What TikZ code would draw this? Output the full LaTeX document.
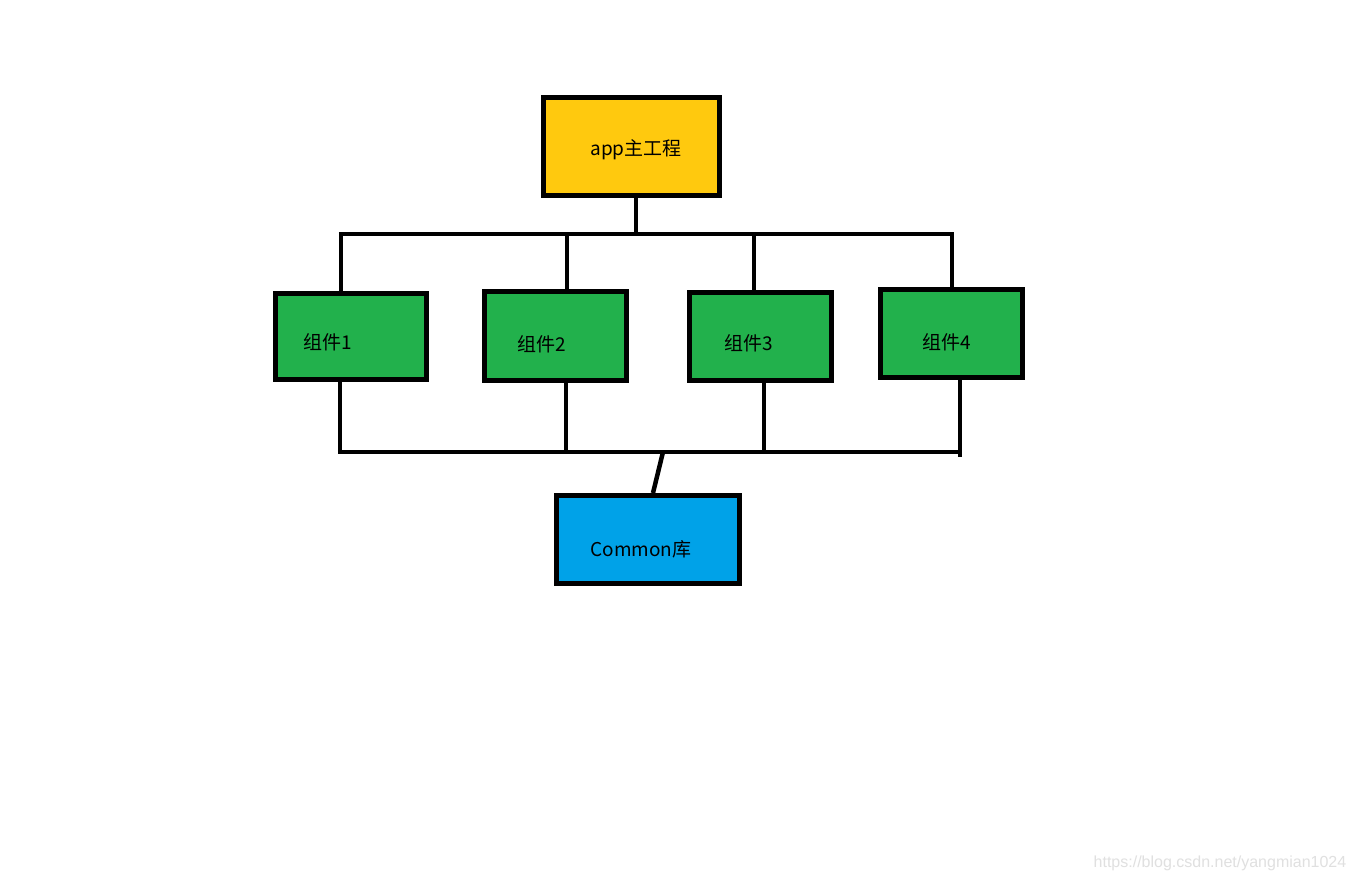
\documentclass[tikz,border=0pt]{standalone}
\usepackage{fontspec}
\setmainfont{Noto Sans CJK SC}
\newfontfamily\wmfont{Liberation Sans}
\definecolor{paintyellow}{HTML}{FFC90E}
\definecolor{paintgreen}{HTML}{22B14C}
\definecolor{paintblue}{HTML}{00A2E8}
\begin{document}
\begin{tikzpicture}[x=1pt,y=-1pt,
  box/.style={draw=black,line width=5pt,line join=miter,rectangle,inner sep=0pt},
  lbl/.style={font=\fontsize{19}{21}\selectfont,text=black,inner sep=0pt},
  wire/.style={draw=black,line width=4.5pt,line cap=butt}]
\useasboundingbox[fill=white] (0,0) rectangle (1353,882);
% boxes
\node[box,fill=paintyellow,minimum width=176pt,minimum height=98pt] (app) at (631.5,146.5) {};
\node[box,fill=paintgreen,minimum width=150.5pt,minimum height=86.5pt] (c1) at (350.75,336.75) {};
\node[box,fill=paintgreen,minimum width=142pt,minimum height=89pt] (c2) at (555.5,336) {};
\node[box,fill=paintgreen,minimum width=142pt,minimum height=88pt] (c3) at (760.5,336.5) {};
\node[box,fill=paintgreen,minimum width=142pt,minimum height=88pt] (c4) at (951.5,333.5) {};
\node[box,fill=paintblue,minimum width=183pt,minimum height=88pt] (common) at (648,539.5) {};
% labels
\node[lbl] (tapp) at (636,150) {app主工程};
\node[lbl] (t1) at (328,342) {组件1};
\node[lbl] (t2) at (542,344) {组件2};
\node[lbl] (t3) at (749,343) {组件3};
\node[lbl] (t4) at (947,342) {组件4};
\node[lbl] (tcom) at (641,549) {Common库};
% bus coordinates
\coordinate (topL) at (341,234);
\coordinate (topR) at (952,234);
\coordinate (topM) at (636,234);
\coordinate (top2) at (567,234);
\coordinate (top3) at (754,234);
\coordinate (bot1) at (340,452);
\coordinate (bot2) at (566,452);
\coordinate (bot3) at (764,452);
\coordinate (bot4) at (960,452);
\coordinate (botM) at (663,452);
% top connectors
\draw[wire] (app.south -| topM) -- (topM);
\draw[wire] ([xshift=-2.25pt]topL) -- ([xshift=2.25pt]topR);
\draw[wire] (topL) -- (c1.north -| topL);
\draw[wire] (top2) -- (c2.north -| top2);
\draw[wire] (top3) -- (c3.north -| top3);
\draw[wire] (topR) -- (c4.north -| topR);
% bottom connectors
\draw[wire] (c1.south -| bot1) -- (bot1);
\draw[wire] (c2.south -| bot2) -- (bot2);
\draw[wire] (c3.south -| bot3) -- (bot3);
\draw[wire] (c4.south -| bot4) -- ([yshift=-5pt]bot4);
\draw[wire] ([xshift=-2.25pt]bot1) -- ([xshift=2.25pt]bot4);
\draw[wire] (botM) -- (common.north -| 653,0);
% watermark
\node[font=\wmfont\fontsize{16}{18}\selectfont,text=black!12,inner sep=0pt] (wm) at (1220,863) {https://blog.csdn.net/yangmian1024};
\end{tikzpicture}
\end{document}
